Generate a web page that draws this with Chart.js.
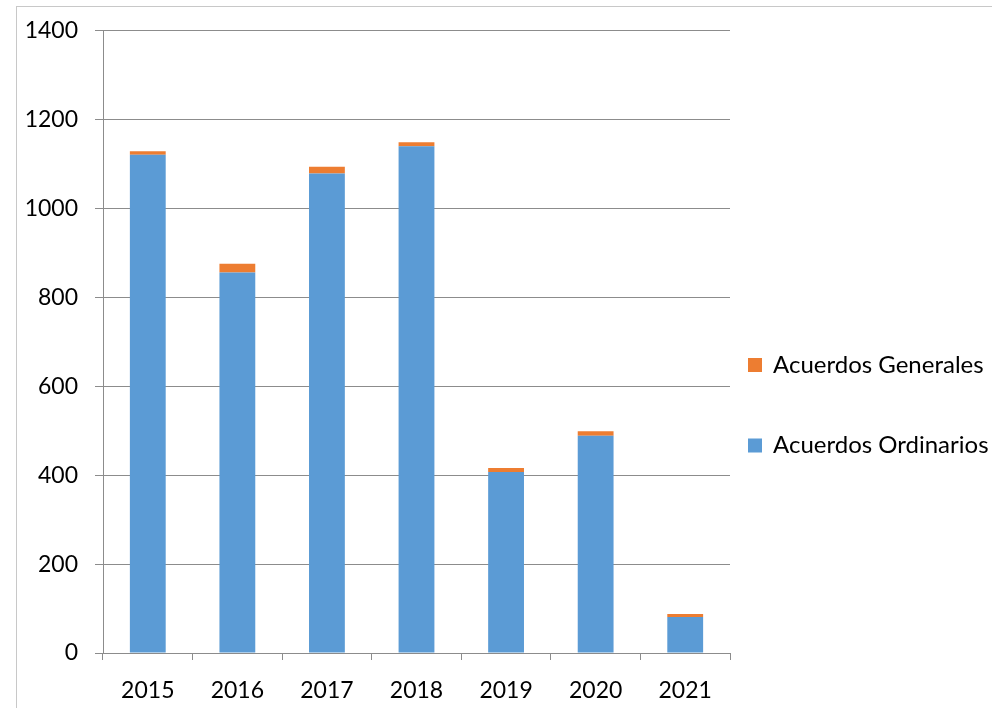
<!DOCTYPE html>
<html>
<head>
<meta charset="utf-8">
<script src="https://cdn.jsdelivr.net/npm/chart.js@4"></script>
<style>
  html, body { margin: 0; padding: 0; background: #ffffff; }
  #wrap { position: relative; width: 992px; height: 708px; }
</style>
</head>
<body>
<div id="wrap"><canvas id="c" width="992" height="708"></canvas></div>
<script>
const categories = ['2015', '2016', '2017', '2018', '2019', '2020', '2021'];
const ordinarios = [1121, 856, 1079, 1140, 407, 489, 81];
const generales = [8, 20, 15, 9, 9, 10, 7];
const seriesNames = ['Acuerdos Ordinarios', 'Acuerdos Generales'];
const seriesColors = ['#5B9BD5', '#ED7D31'];
const yTicks = [0, 200, 400, 600, 800, 1000, 1200, 1400];

const FONT = 'Lato, "Open Sans", sans-serif';
const axisGray = '#8c8c8c';

const frame = {
  id: 'frame',
  beforeDraw(chart) {
    const ctx = chart.ctx;
    ctx.save();
    ctx.fillStyle = '#ffffff';
    ctx.fillRect(0, 0, chart.width, chart.height);
    ctx.strokeStyle = '#c8c8c8';
    ctx.lineWidth = 1;
    ctx.strokeRect(16.5, 6.5, 2000, 2000);
    ctx.restore();
  }
};

const sideLegend = {
  id: 'sideLegend',
  afterDraw(chart) {
    const ctx = chart.ctx;
    const ds = chart.data.datasets.slice().reverse();
    ctx.save();
    ctx.font = '24px ' + FONT;
    ctx.textBaseline = 'middle';
    ctx.textAlign = 'left';
    const startY = 365, step = 80.5;
    ds.forEach((d, i) => {
      const cy = startY + i * step;
      ctx.fillStyle = d.backgroundColor;
      ctx.fillRect(748, cy - 7, 14, 14);
      ctx.fillStyle = '#000000';
      ctx.fillText(d.label, 773, cy);
    });
    ctx.restore();
  }
};

new Chart(document.getElementById('c'), {
  type: 'bar',
  data: {
    labels: categories,
    datasets: [
      { label: seriesNames[0], data: ordinarios, backgroundColor: seriesColors[0], borderWidth: 0 },
      { label: seriesNames[1], data: generales, backgroundColor: seriesColors[1], borderWidth: 0 }
    ]
  },
  options: {
    responsive: false,
    animation: false,
    devicePixelRatio: 1,
    categoryPercentage: 1,
    barPercentage: 0.4,
    layout: { padding: { left: 0, top: 29, right: 262, bottom: 0 } },
    plugins: {
      legend: { display: false },
      tooltip: { enabled: false },
      title: { display: false }
    },
    scales: {
      x: {
        stacked: true,
        offset: true,
        afterFit(s) { s.height = 55; },
        grid: {
          offset: true,
          drawOnChartArea: false,
          drawTicks: true,
          tickLength: 7,
          color: axisGray,
          lineWidth: 1
        },
        border: { display: true, color: axisGray, width: 1 },
        ticks: {
          color: '#000000',
          font: { family: FONT, size: 23 },
          padding: 17,
          maxRotation: 0
        }
      },
      y: {
        stacked: true,
        min: 0,
        max: 1400,
        afterFit(s) { s.width = 103; },
        afterBuildTicks(s) { s.ticks = yTicks.map(v => ({ value: v })); },
        grid: {
          drawOnChartArea: true,
          drawTicks: true,
          tickLength: 8,
          color: axisGray,
          lineWidth: 1
        },
        border: { display: true, color: axisGray, width: 1 },
        ticks: {
          color: '#000000',
          font: { family: FONT, size: 23 },
          padding: 17,
          callback: v => String(v)
        }
      }
    }
  },
  plugins: [frame, sideLegend]
});
</script>
</body>
</html>
